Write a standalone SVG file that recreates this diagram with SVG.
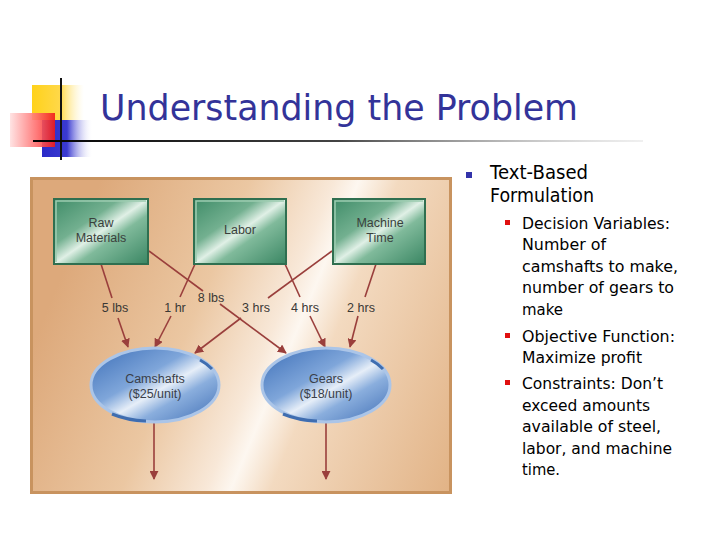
<svg xmlns="http://www.w3.org/2000/svg" width="720" height="540" viewBox="0 0 720 540">
<defs>
<linearGradient id="yel" x1="0" y1="0" x2="1" y2="0"><stop offset="0" stop-color="#FFD21A"/><stop offset="0.55" stop-color="#FFD84A"/><stop offset="1" stop-color="#FFF3C0" stop-opacity="0"/></linearGradient>
<linearGradient id="red" x1="0" y1="0" x2="1" y2="0"><stop offset="0" stop-color="#FFE0E0"/><stop offset="0.6" stop-color="#FF6A6A"/><stop offset="1" stop-color="#F01818"/></linearGradient>
<linearGradient id="blu" x1="0" y1="0" x2="1" y2="0"><stop offset="0" stop-color="#2A2AC8"/><stop offset="0.5" stop-color="#3A3AD0"/><stop offset="1" stop-color="#E8E8FA" stop-opacity="0"/></linearGradient>
<linearGradient id="hline" x1="0" y1="0" x2="1" y2="0"><stop offset="0" stop-color="#000"/><stop offset="0.5" stop-color="#444"/><stop offset="1" stop-color="#ccc" stop-opacity="0.3"/></linearGradient>
<linearGradient id="panel" gradientUnits="userSpaceOnUse" x1="73" y1="247" x2="497" y2="423"><stop offset="0" stop-color="#DDA97B"/><stop offset="0.3" stop-color="#EBC7A2"/><stop offset="0.47" stop-color="#F8E8D8"/><stop offset="0.52" stop-color="#FDF7F0"/><stop offset="0.6" stop-color="#F3DAC0"/><stop offset="1" stop-color="#E0AF80"/></linearGradient>
<linearGradient id="grn" x1="0" y1="0" x2="1" y2="1"><stop offset="0" stop-color="#3F8C68"/><stop offset="0.35" stop-color="#73B090"/><stop offset="0.5" stop-color="#E0F0E6"/><stop offset="0.62" stop-color="#80BA9B"/><stop offset="1" stop-color="#3A8663"/></linearGradient>
<linearGradient id="ell" x1="0" y1="0" x2="1" y2="1"><stop offset="0" stop-color="#3D6FB8"/><stop offset="0.4" stop-color="#7FA6DA"/><stop offset="0.55" stop-color="#E6EEF8"/><stop offset="0.68" stop-color="#8AAEDD"/><stop offset="1" stop-color="#3F6EB5"/></linearGradient>
<marker id="ah" viewBox="0 0 10 10" refX="9" refY="5" markerWidth="9" markerHeight="9" markerUnits="userSpaceOnUse" orient="auto"><path d="M0,0 L10,5 L0,10 z" fill="#9A3F3C"/></marker>
</defs>
<style>
.title{font-family:"DejaVu Sans",Verdana,sans-serif;font-size:36px;fill:#333399}
.bt{font-family:"DejaVu Sans",Verdana,sans-serif;fill:#000}
.l1{font-size:19px}
.l2{font-size:16px}
.box{fill:url(#grn);stroke:#2F6F50;stroke-width:2}
.bev{fill:none;stroke:#9CCBB0;stroke-width:1.5}
.bx{font-family:"Liberation Sans",Arial,sans-serif;font-size:12.5px;fill:#3a3f3c;text-anchor:middle}
.lab{font-family:"Liberation Sans",Arial,sans-serif;font-size:12.5px;fill:#3a3835;text-anchor:middle}
.el{fill:url(#ell);stroke:#ABC5E8;stroke-width:3}
.arc{fill:none;stroke:#3F6DB0;stroke-width:3}
.et{font-family:"Liberation Sans",Arial,sans-serif;font-size:12.5px;fill:#3a3f4a;text-anchor:middle}
.cn{stroke:#9A3F3C;stroke-width:1.6;fill:none}
</style>
<rect width="720" height="540" fill="#fff"/>
<g id="logo">
<rect x="32" y="85" width="52" height="35" fill="url(#yel)"/>
<rect x="42" y="120" width="50" height="37" fill="url(#blu)"/>
<rect x="10" y="113" width="45" height="34" fill="url(#red)" opacity="0.9"/>
<line x1="61" y1="78" x2="61" y2="160" stroke="#111" stroke-width="2"/>
<rect x="33" y="140" width="610" height="2" fill="url(#hline)"/>
</g>
<text class="title" x="100" y="120" textLength="478" lengthAdjust="spacingAndGlyphs">Understanding the Problem</text>
<g id="panel">
<rect x="30" y="177" width="422" height="317" fill="url(#panel)"/>
<rect x="31.5" y="178.5" width="419" height="314" fill="none" stroke="#C8935F" stroke-width="3"/>
</g>
<g id="connectors">
<line class="cn" x1="101" y1="264" x2="112" y2="298"/>
<line class="cn" x1="118" y1="318" x2="128" y2="347" marker-end="url(#ah)"/>
<line class="cn" x1="149" y1="251" x2="203" y2="291"/>
<line class="cn" x1="220" y1="304" x2="286" y2="353" marker-end="url(#ah)"/>
<line class="cn" x1="195" y1="264" x2="180" y2="297"/>
<line class="cn" x1="171" y1="316" x2="155" y2="347" marker-end="url(#ah)"/>
<line class="cn" x1="285" y1="264" x2="300" y2="297"/>
<line class="cn" x1="310" y1="316" x2="325" y2="347" marker-end="url(#ah)"/>
<line class="cn" x1="332" y1="251" x2="268" y2="298"/>
<line class="cn" x1="241" y1="318" x2="195" y2="353" marker-end="url(#ah)"/>
<line class="cn" x1="376" y1="264" x2="365" y2="297"/>
<line class="cn" x1="358" y1="316" x2="350" y2="347" marker-end="url(#ah)"/>
<line class="cn" x1="154" y1="423" x2="154" y2="479" marker-end="url(#ah)"/>
<line class="cn" x1="326" y1="423" x2="326" y2="479" marker-end="url(#ah)"/>
</g>
<g id="n-raw"><rect class="box" x="54" y="199" width="94" height="65"/><path class="bev" d="M56,262 V201 H146"/><text class="bx" x="101" y="227">Raw</text><text class="bx" x="101" y="242">Materials</text></g>
<g id="n-labor"><rect class="box" x="194" y="199" width="92" height="65"/><path class="bev" d="M196,262 V201 H284"/><text class="bx" x="240" y="234">Labor</text></g>
<g id="n-machine"><rect class="box" x="333" y="199" width="92" height="65"/><path class="bev" d="M335,262 V201 H423"/><text class="bx" x="380" y="227">Machine</text><text class="bx" x="380" y="242">Time</text></g>
<g id="labels">
<text class="lab" x="115" y="312">5 lbs</text>
<text class="lab" x="175" y="312">1 hr</text>
<text class="lab" x="211" y="302">8 lbs</text>
<text class="lab" x="256" y="312">3 hrs</text>
<text class="lab" x="305" y="312">4 hrs</text>
<text class="lab" x="361" y="312">2 hrs</text>
</g>
<g id="n-camshafts"><ellipse class="el" cx="155" cy="385" rx="64" ry="37"/><path class="arc" d="M200,360 A64,37 0 0 1 212,369"/><path class="arc" d="M112,414 A64,37 0 0 0 146,421"/><text class="et" x="155" y="383">Camshafts</text><text class="et" x="155" y="398">($25/unit)</text></g>
<g id="n-gears"><ellipse class="el" cx="326" cy="385" rx="64" ry="37"/><path class="arc" d="M371,360 A64,37 0 0 1 383,369"/><path class="arc" d="M283,414 A64,37 0 0 0 317,421"/><text class="et" x="326" y="383">Gears</text><text class="et" x="326" y="398">($18/unit)</text></g>
<g id="bullets">
<rect x="466" y="172" width="6" height="6" fill="#3333AA"/>
<text class="bt l1" x="490" y="179" textLength="98" lengthAdjust="spacingAndGlyphs">Text-Based</text>
<text class="bt l1" x="490" y="202" textLength="104" lengthAdjust="spacingAndGlyphs">Formulation</text>
<rect x="505" y="220" width="5" height="5" fill="#E01010"/>
<rect x="505" y="333" width="5" height="5" fill="#E01010"/>
<rect x="505" y="380" width="5" height="5" fill="#E01010"/>
<text class="bt l2" x="522" y="229" textLength="148" lengthAdjust="spacingAndGlyphs">Decision Variables:</text>
<text class="bt l2" x="522" y="250" textLength="84" lengthAdjust="spacingAndGlyphs">Number of</text>
<text class="bt l2" x="522" y="272" textLength="156" lengthAdjust="spacingAndGlyphs">camshafts to make,</text>
<text class="bt l2" x="522" y="293" textLength="152" lengthAdjust="spacingAndGlyphs">number of gears to</text>
<text class="bt l2" x="522" y="315" textLength="41" lengthAdjust="spacingAndGlyphs">make</text>
<text class="bt l2" x="522" y="342" textLength="153" lengthAdjust="spacingAndGlyphs">Objective Function:</text>
<text class="bt l2" x="522" y="363" textLength="120" lengthAdjust="spacingAndGlyphs">Maximize profit</text>
<text class="bt l2" x="522" y="389" textLength="141" lengthAdjust="spacingAndGlyphs">Constraints: Don’t</text>
<text class="bt l2" x="522" y="411" textLength="128" lengthAdjust="spacingAndGlyphs">exceed amounts</text>
<text class="bt l2" x="522" y="432" textLength="139" lengthAdjust="spacingAndGlyphs">available of steel,</text>
<text class="bt l2" x="522" y="454" textLength="150" lengthAdjust="spacingAndGlyphs">labor, and machine</text>
<text class="bt l2" x="522" y="475" textLength="38" lengthAdjust="spacingAndGlyphs">time.</text>
</g>
</svg>
